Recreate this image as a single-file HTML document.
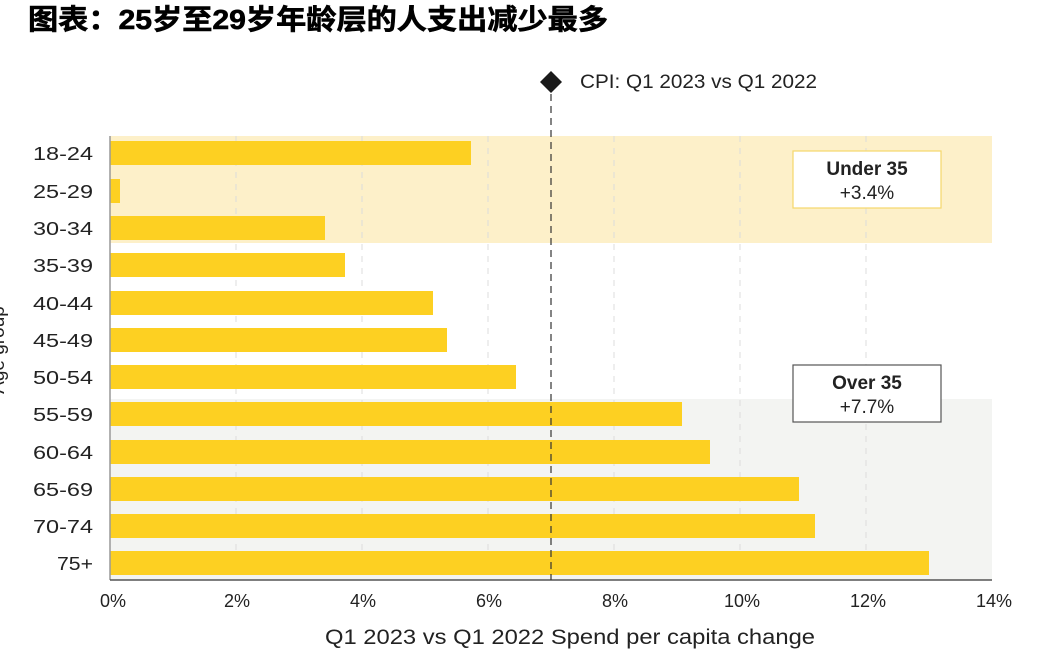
<!DOCTYPE html>
<html><head><meta charset="utf-8"><style>
html,body{margin:0;padding:0;background:#fff;width:1056px;height:672px;overflow:hidden}
svg{display:block}
text{font-family:"Liberation Sans","Noto Sans CJK SC",sans-serif}
</style></head><body>
<svg width="1056" height="672" viewBox="0 0 1056 672">
<text x="28" y="29" font-size="28" font-weight="bold" fill="#000" stroke="#000" stroke-width="0.6" textLength="580" lengthAdjust="spacingAndGlyphs">图表：25岁至29岁年龄层的人支出减少最多</text>
<rect x="110" y="136" width="882" height="107" fill="#fdf0c9"/>
<rect x="110" y="399" width="882" height="181" fill="#f3f4f2"/>
<g stroke="#dcdcdc" stroke-width="1" stroke-dasharray="6,6">
<line x1="236" y1="136" x2="236" y2="580"/><line x1="362" y1="136" x2="362" y2="580"/>
<line x1="488" y1="136" x2="488" y2="580"/><line x1="614" y1="136" x2="614" y2="580"/>
<line x1="740" y1="136" x2="740" y2="580"/><line x1="866" y1="136" x2="866" y2="580"/>
</g>
<g fill="#fdd022">
<rect x="110" y="141" width="361" height="24"/>
<rect x="110" y="179" width="10" height="24"/>
<rect x="110" y="216" width="215" height="24"/>
<rect x="110" y="253" width="235" height="24"/>
<rect x="110" y="291" width="323" height="24"/>
<rect x="110" y="328" width="337" height="24"/>
<rect x="110" y="365" width="406" height="24"/>
<rect x="110" y="402" width="572" height="24"/>
<rect x="110" y="440" width="600" height="24"/>
<rect x="110" y="477" width="689" height="24"/>
<rect x="110" y="514" width="705" height="24"/>
<rect x="110" y="551" width="819" height="24"/>
</g>
<line x1="110" y1="136" x2="110" y2="580" stroke="#999" stroke-width="1.5"/>
<line x1="110" y1="580" x2="992" y2="580" stroke="#555" stroke-width="1.5"/>
<line x1="551" y1="94" x2="551" y2="580" stroke="#333" stroke-width="1.2" stroke-dasharray="7,5"/>
<polygon points="551,71 562,82 551,93 540,82" fill="#1a1a1a"/>
<text x="580" y="88" font-size="19" fill="#222" textLength="237" lengthAdjust="spacingAndGlyphs">CPI: Q1 2023 vs Q1 2022</text>
<g font-size="18" fill="#222" text-anchor="end" lengthAdjust="spacingAndGlyphs">
<text x="93" y="160" textLength="60" lengthAdjust="spacingAndGlyphs">18-24</text>
<text x="93" y="198" textLength="60" lengthAdjust="spacingAndGlyphs">25-29</text>
<text x="93" y="235" textLength="60" lengthAdjust="spacingAndGlyphs">30-34</text>
<text x="93" y="272" textLength="60" lengthAdjust="spacingAndGlyphs">35-39</text>
<text x="93" y="310" textLength="60" lengthAdjust="spacingAndGlyphs">40-44</text>
<text x="93" y="347" textLength="60" lengthAdjust="spacingAndGlyphs">45-49</text>
<text x="93" y="384" textLength="60" lengthAdjust="spacingAndGlyphs">50-54</text>
<text x="93" y="421" textLength="60" lengthAdjust="spacingAndGlyphs">55-59</text>
<text x="93" y="459" textLength="60" lengthAdjust="spacingAndGlyphs">60-64</text>
<text x="93" y="496" textLength="60" lengthAdjust="spacingAndGlyphs">65-69</text>
<text x="93" y="533" textLength="60" lengthAdjust="spacingAndGlyphs">70-74</text>
<text x="93" y="570" textLength="36" lengthAdjust="spacingAndGlyphs">75+</text>
</g>
<text transform="translate(4,350) rotate(-90)" font-size="19" fill="#222" text-anchor="middle">Age group</text>
<g font-size="18" fill="#222" text-anchor="middle">
<text x="113" y="607">0%</text><text x="237" y="607">2%</text><text x="363" y="607">4%</text>
<text x="489" y="607">6%</text><text x="615" y="607">8%</text><text x="742" y="607">10%</text>
<text x="868" y="607">12%</text><text x="994" y="607">14%</text>
</g>
<text x="325" y="644" font-size="21" fill="#222" textLength="490" lengthAdjust="spacingAndGlyphs">Q1 2023 vs Q1 2022 Spend per capita change</text>
<rect x="793" y="151" width="148" height="57" fill="#fff" stroke="#f5d76a" stroke-width="1.2"/>
<text x="867" y="175" font-size="19" font-weight="bold" fill="#222" text-anchor="middle">Under 35</text>
<text x="867" y="199" font-size="19" fill="#222" text-anchor="middle">+3.4%</text>
<rect x="793" y="365" width="148" height="57" fill="#fff" stroke="#555" stroke-width="1.2"/>
<text x="867" y="389" font-size="19" font-weight="bold" fill="#222" text-anchor="middle">Over 35</text>
<text x="867" y="413" font-size="19" fill="#222" text-anchor="middle">+7.7%</text>
</svg>
</body></html>
